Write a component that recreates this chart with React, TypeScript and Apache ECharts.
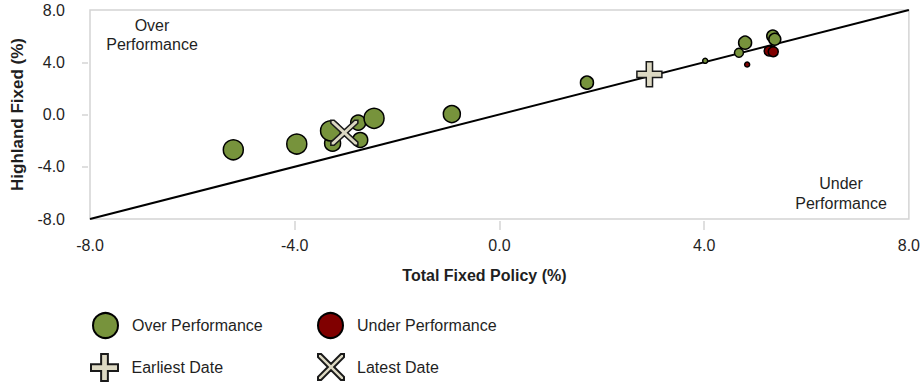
import React, { useEffect, useRef } from "react";
import * as echarts from "echarts";

const FONT = "'Liberation Sans', Arial, Helvetica, sans-serif";
const TEXT = "#1f1f1f";

// axis range and tick step
const axisMin = -8;
const axisMax = 8;
const axisStep = 4;
const innerTicks = [-4, 0, 4];

// Over Performance bubbles
const overX = [-5.2, -3.96, -3.26, -3.3, -2.76, -2.72, -2.45, -0.93, 1.71, 4.02, 4.68, 4.8, 5.34, 5.38];
const overY = [-2.7, -2.26, -2.2, -1.25, -0.62, -1.95, -0.29, 0.03, 2.44, 4.11, 4.73, 5.5, 6.0, 5.76];
const overWeight = [20, 20, 16, 20, 15, 15, 20, 17, 13, 5, 9, 13, 12, 12];

// Under Performance bubbles
const underX = [4.84, 5.27, 5.35];
const underY = [3.83, 4.86, 4.81];
const underWeight = [5, 10, 10];

// dates
const earliest = [2.93, 3.08];
const latest = [-3.03, -1.39];

// parity line
const parityLine = [
  [-8, -8],
  [8, 8],
];

const PLUS = "path://M3,0H5V3H8V5H5V8H3V5H0V3H3Z";
const CROSS =
  "path://M0,0L1.2,0L5,3.8L8.8,0L10,0L10,1.2L6.2,5L10,8.8L10,10L8.8,10L5,6.2L1.2,10L0,10L0,8.8L3.8,5L0,1.2Z";

const GREEN = "#77933C";
const RED = "#800000";
const BEIGE = "#DDD9C3";
const GRIDC = "#d4d4d4";

export default function App() {
  const ref = useRef<HTMLDivElement>(null);

  useEffect(() => {
    if (!ref.current) return;
    const chart = echarts.init(ref.current, null, { renderer: "svg" });
    const legendText = (pad: number) => ({
      fontSize: 16,
      fontFamily: FONT,
      color: TEXT,
      padding: [0, 0, 0, pad],
    });
    const option: any = {
      animation: false,
      backgroundColor: "#fff",
      grid: {
        left: 90,
        right: 11,
        top: 10,
        bottom: 166,
        show: true,
        borderColor: GRIDC,
        borderWidth: 1.5,
        containLabel: false,
      },
      xAxis: {
        type: "value",
        min: axisMin,
        max: axisMax,
        interval: axisStep,
        offset: 2,
        axisLine: { show: false, onZero: false },
        splitLine: { show: false },
        axisTick: {
          show: true,
          inside: false,
          length: 9,
          customValues: innerTicks,
          lineStyle: { color: GRIDC, width: 1.5 },
        },
        axisLabel: {
          margin: 16,
          fontSize: 16,
          fontFamily: FONT,
          color: TEXT,
          formatter: (v: number) => v.toFixed(1),
        },
        name: "Total Fixed Policy (%)",
        nameLocation: "middle",
        nameGap: 46,
        nameTextStyle: {
          fontSize: 16,
          fontWeight: "bold",
          fontFamily: FONT,
          color: TEXT,
          padding: [0, 30, 0, 0],
        },
      },
      yAxis: {
        type: "value",
        min: axisMin,
        max: axisMax,
        interval: axisStep,
        offset: 2,
        axisLine: { show: false, onZero: false },
        splitLine: { show: false },
        axisTick: {
          show: true,
          inside: false,
          length: 6,
          customValues: innerTicks,
          lineStyle: { color: GRIDC, width: 1.5 },
        },
        axisLabel: {
          margin: 23,
          fontSize: 16,
          fontFamily: FONT,
          color: TEXT,
          formatter: (v: number) => v.toFixed(1),
        },
        name: "Highland Fixed (%)",
        nameLocation: "middle",
        nameGap: 62,
        nameRotate: 90,
        nameTextStyle: {
          fontSize: 17,
          fontWeight: "bold",
          fontFamily: FONT,
          color: TEXT,
        },
      },
      legend: [
        {
          data: ["Over Performance"],
          left: 92,
          top: 312,
          padding: 0,
          itemWidth: 27,
          itemHeight: 25,
          selectedMode: false,
          textStyle: legendText(8),
        },
        {
          data: ["Under Performance"],
          left: 317,
          top: 312,
          padding: 0,
          itemWidth: 27,
          itemHeight: 25,
          selectedMode: false,
          textStyle: legendText(8),
        },
        {
          data: ["Earliest Date"],
          left: 90,
          top: 353,
          padding: 0,
          itemWidth: 30,
          itemHeight: 27,
          selectedMode: false,
          textStyle: legendText(7),
        },
        {
          data: ["Latest Date"],
          left: 317,
          top: 353,
          padding: 0,
          itemWidth: 28,
          itemHeight: 26,
          selectedMode: false,
          textStyle: legendText(7),
        },
      ],
      graphic: [
        {
          type: "text",
          x: 152,
          y: 16,
          style: {
            text: "Over\nPerformance",
            align: "center",
            verticalAlign: "top",
            fontSize: 16,
            fontFamily: FONT,
            fill: TEXT,
            lineHeight: 19,
          },
        },
        {
          type: "text",
          x: 841,
          y: 173,
          style: {
            text: "Under\nPerformance",
            align: "center",
            verticalAlign: "top",
            fontSize: 16,
            fontFamily: FONT,
            fill: TEXT,
            lineHeight: 20,
          },
        },
      ],
      series: [
        {
          name: "Parity",
          type: "line",
          data: parityLine,
          symbol: "none",
          silent: true,
          lineStyle: { color: "#000", width: 2 },
          z: 1,
        },
        {
          name: "Over Performance",
          type: "scatter",
          symbol: "circle",
          data: overX.map((x, i) => [x, overY[i], overWeight[i]]),
          symbolSize: (v: number[]) => v[2],
          itemStyle: { color: GREEN, borderColor: "#000", borderWidth: 1.5, opacity: 1 },
          z: 2,
        },
        {
          name: "Under Performance",
          type: "scatter",
          symbol: "circle",
          data: underX.map((x, i) => [x, underY[i], underWeight[i]]),
          symbolSize: (v: number[]) => v[2],
          itemStyle: { color: RED, borderColor: "#000", borderWidth: 1.5, opacity: 1 },
          z: 2,
        },
        {
          name: "Earliest Date",
          type: "scatter",
          symbol: PLUS,
          symbolSize: [25, 25],
          data: [earliest],
          itemStyle: { color: BEIGE, borderColor: "#1a1a1a", borderWidth: 1.5, opacity: 1 },
          z: 3,
        },
        {
          name: "Latest Date",
          type: "scatter",
          symbol: CROSS,
          symbolSize: [27, 25],
          data: [latest],
          itemStyle: { color: BEIGE, borderColor: "#1a1a1a", borderWidth: 1.5, opacity: 1 },
          z: 3,
        },
      ],
    };
    chart.setOption(option);
    return () => chart.dispose();
  }, []);

  return (
    <div
      ref={ref}
      style={{ position: "fixed", left: 0, top: 0, width: 923, height: 385 }}
    />
  );
}
